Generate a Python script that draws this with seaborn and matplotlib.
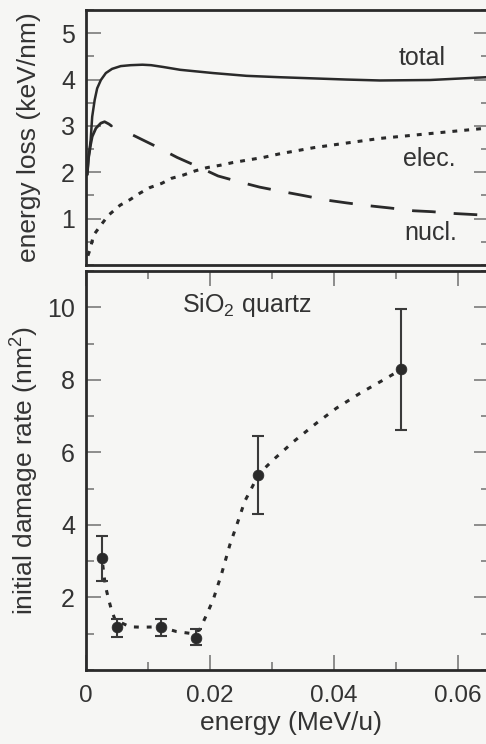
import numpy as np
import pandas as pd
import matplotlib
matplotlib.use("Agg")
import matplotlib.pyplot as plt
from matplotlib.ticker import MultipleLocator
import seaborn as sns

# ---------------- data ----------------
total_x = [0.0002, 0.0004, 0.00075, 0.0010, 0.0014, 0.0018, 0.0024, 0.0032, 0.0042, 0.0056,
           0.0072, 0.0091, 0.0105, 0.0125, 0.0152, 0.0205, 0.0259, 0.0313, 0.042, 0.0474,
           0.0555, 0.0645, 0.066]
total_y = [1.95, 2.3, 2.69, 3.20, 3.56, 3.81, 3.99, 4.14, 4.23, 4.29,
           4.31, 4.32, 4.31, 4.27, 4.21, 4.14, 4.08, 4.05, 4.0, 3.98,
           3.99, 4.05, 4.06]

nucl_x = [0.0002, 0.0004, 0.00075, 0.0010, 0.0016, 0.0024, 0.0030, 0.0037, 0.0041,
          0.0076, 0.0114, 0.0147, 0.0184, 0.0213, 0.0251, 0.0280, 0.0318, 0.0350,
          0.0388, 0.042, 0.0455, 0.049, 0.0528, 0.0558, 0.0595, 0.065, 0.066]
nucl_y = [1.95, 2.3, 2.6, 2.77, 2.95, 3.06, 3.09, 3.04, 3.0,
          2.80, 2.55, 2.32, 2.10, 1.92, 1.78, 1.68, 1.58, 1.50,
          1.40, 1.34, 1.28, 1.23, 1.17, 1.15, 1.11, 1.07, 1.06]

elec_x = [0.0003, 0.0007, 0.0012, 0.0024, 0.0036, 0.0055, 0.0071, 0.0087, 0.0103, 0.0122,
          0.0138, 0.0157, 0.0176, 0.0195, 0.0216, 0.0237, 0.0259, 0.0286, 0.0313, 0.0367,
          0.042, 0.0474, 0.0528, 0.0582, 0.0645, 0.066]
elec_y = [0.2, 0.35, 0.64, 0.86, 1.07, 1.29, 1.41, 1.55, 1.67, 1.76,
          1.87, 1.94, 2.03, 2.10, 2.15, 2.21, 2.26, 2.32, 2.40, 2.53,
          2.63, 2.73, 2.80, 2.87, 2.95, 2.97]

pts_x = [0.00253, 0.00505, 0.01205, 0.0177, 0.0278, 0.0508]
pts_y = [3.08, 1.18, 1.19, 0.87, 5.38, 8.30]
err_lo = [2.46, 0.92, 0.94, 0.69, 4.30, 6.62]
err_hi = [3.70, 1.41, 1.41, 1.12, 6.46, 9.96]

fit_x = [0.0027, 0.0031, 0.0036, 0.0041, 0.0047, 0.0071, 0.009, 0.0119, 0.0146, 0.0168,
         0.0183, 0.0192, 0.0205, 0.0219, 0.0232, 0.0246, 0.0256, 0.0267, 0.0278, 0.0291,
         0.0305, 0.0335, 0.0372, 0.0404, 0.0442, 0.048, 0.051]
fit_y = [2.9, 2.34, 1.98, 1.66, 1.38, 1.19, 1.18, 1.19, 1.06, 1.01,
         1.10, 1.43, 1.93, 2.67, 3.45, 4.14, 4.65, 5.01, 5.38, 5.61,
         5.84, 6.30, 6.81, 7.22, 7.63, 8.0, 8.3]

x_ticks = [0, 0.02, 0.04, 0.06]
x_ticklabels = ["0", "0.02", "0.04", "0.06"]
top_yticks = [1, 2, 3, 4, 5]
bot_yticks = [2, 4, 6, 8, 10]

# ---------------- style ----------------
sns.set_theme(style="white")
bg = "#f6f6f4"
ink = "#2a2a2a"
tickc = "#707070"
plt.rcParams["font.family"] = ["Liberation Sans", "DejaVu Sans"]
plt.rcParams["mathtext.fontset"] = "custom"
plt.rcParams["mathtext.rm"] = "Liberation Sans"
plt.rcParams["mathtext.default"] = "regular"

fig = plt.figure(figsize=(4.86, 7.44), dpi=100, facecolor=bg)
W, H = 486, 744
left_px, right_px = 86, 489
ax1 = fig.add_axes([left_px / W, 1 - 265 / H, (right_px - left_px) / W, (265 - 10) / H])
ax2 = fig.add_axes([left_px / W, 1 - 670 / H, (right_px - left_px) / W, (670 - 271) / H])

for ax in (ax1, ax2):
    ax.set_facecolor(bg)
    for s in ax.spines.values():
        s.set_visible(True)
        s.set_color(ink)
        s.set_linewidth(2.0)
    ax.set_xlim(0, 0.065)
    ax.tick_params(which="both", direction="in", color=tickc, width=1.1,
                   labelsize=18, labelcolor="#333333")
    ax.tick_params(which="major", length=11)
    ax.tick_params(which="minor", length=6)
    ax.tick_params(axis="y", which="both", left=True, right=True, pad=8)

# ---------------- top panel ----------------
n_solid = 9
sns.lineplot(x=total_x, y=total_y, ax=ax1, sort=False, estimator=None,
             color=ink, linewidth=1.8)
sns.lineplot(x=nucl_x[:n_solid], y=nucl_y[:n_solid], ax=ax1, sort=False, estimator=None,
             color=ink, linewidth=2.0)
sns.lineplot(x=nucl_x[n_solid:], y=nucl_y[n_solid:], ax=ax1, sort=False, estimator=None,
             color=ink, linewidth=2.0, linestyle=(0, (8.5, 6.5)))
sns.lineplot(x=elec_x, y=elec_y, ax=ax1, sort=False, estimator=None,
             color=ink, linewidth=2.2, linestyle=(0, (1.6, 2.3)))

ax1.set_ylim(0, 5.5)
ax1.set_yticks(top_yticks)
ax1.yaxis.set_minor_locator(MultipleLocator(0.5))
ax1.tick_params(axis="x", which="both", bottom=False, top=False, labelbottom=False)
ax1.set_xlabel("")
ax1.set_ylabel("energy loss (keV/nm)", fontsize=19, color="#333333")
ax1.yaxis.set_label_coords(-0.112, 0.5)

ax1.text(0.0504, 4.32, "total", fontsize=18, color="#333333", ha="left", va="baseline")
ax1.text(0.0512, 2.14, "elec.", fontsize=18, color="#333333", ha="left", va="baseline")
ax1.text(0.0513, 0.53, "nucl.", fontsize=18, color="#333333", ha="left", va="baseline")

# ---------------- bottom panel ----------------
sns.lineplot(x=fit_x, y=fit_y, ax=ax2, sort=False, estimator=None,
             color=ink, linewidth=2.2, linestyle=(0, (1.6, 2.6)))
yerr = np.array([np.array(pts_y) - np.array(err_lo), np.array(err_hi) - np.array(pts_y)])
ax2.errorbar(pts_x, pts_y, yerr=yerr, fmt="none", ecolor="#3a3a3a",
             elinewidth=1.5, capsize=4.5, capthick=1.5, zorder=3)
sns.scatterplot(x=pts_x, y=pts_y, ax=ax2, color=ink, s=60, edgecolor=ink,
                linewidth=0.5, zorder=4)

ax2.set_ylim(0, 11)
ax2.set_yticks(bot_yticks)
ax2.yaxis.set_minor_locator(MultipleLocator(1))
ax2.set_xticks(x_ticks)
ax2.set_xticklabels(x_ticklabels)
ax2.xaxis.set_minor_locator(MultipleLocator(0.01))
ax2.tick_params(axis="x", which="both", bottom=True, top=True, pad=11, labelsize=17.5)
ax2.set_xlabel("energy (MeV/u)", fontsize=19, color="#333333")
ax2.xaxis.set_label_coords(0.508, -0.104)
ax2.set_ylabel("initial damage rate (nm$^2$)", fontsize=19, color="#333333")
ax2.yaxis.set_label_coords(-0.112, 0.5)

ax2.text(0.0155, 9.86, "SiO$_2$ quartz", fontsize=18, color="#333333",
         ha="left", va="baseline")

fig.savefig("out.png", dpi=100, facecolor=bg)
